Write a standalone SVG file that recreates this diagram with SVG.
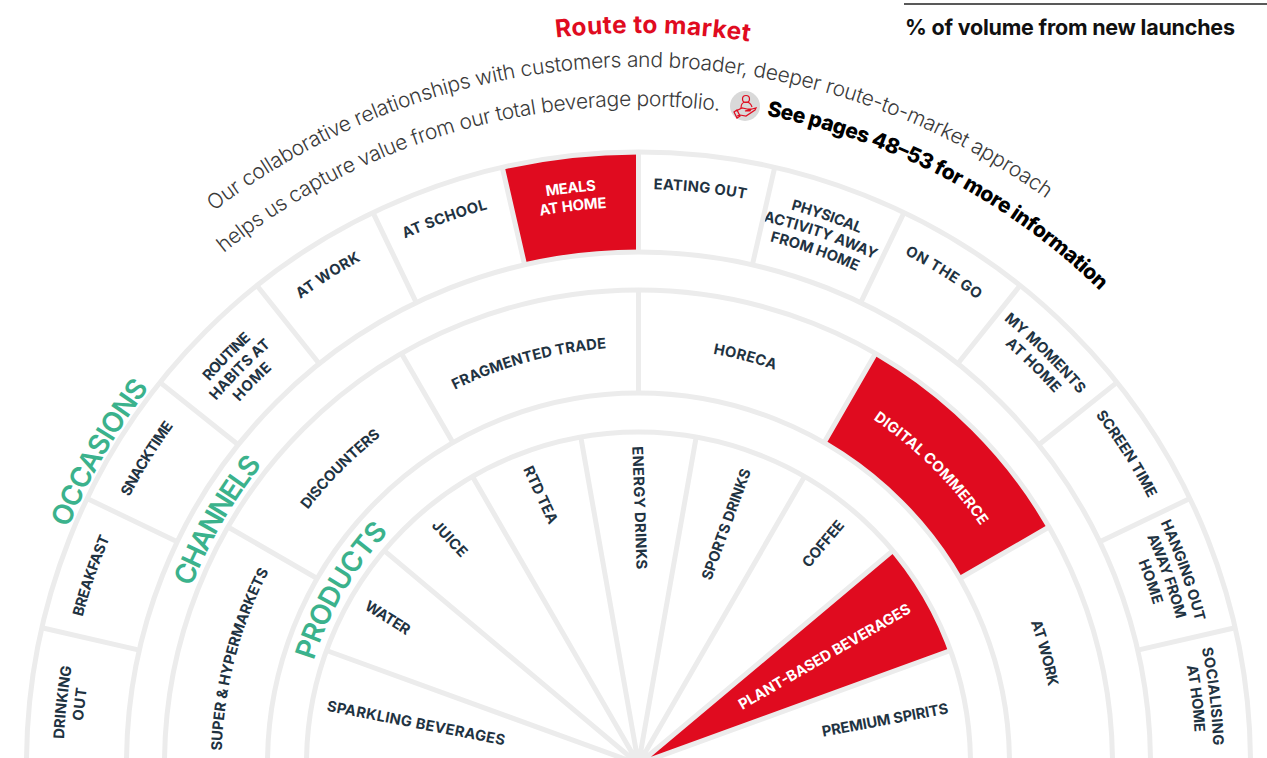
<svg xmlns="http://www.w3.org/2000/svg" width="1267" height="758" viewBox="0 0 1267 758">
<style>
text{font-family:"Inter","Liberation Sans",sans-serif}
.l{font-weight:700;font-size:14.7px;fill:#1f3342;text-anchor:middle}
.w{font-weight:700;font-size:14.7px;fill:#fff;text-anchor:middle}
.t{font-weight:600;font-size:28px;fill:#3bb28c}
.red{fill:#e00b1f}
.ring{fill:none;stroke:#ececec;stroke-width:5}
.b{font-weight:300;font-size:21px;fill:#3a3a3a}
</style>
<defs>
<path id="r731" d="M-92.5 764A731 731 0 0 1 1369.5 764"/>
<path id="r697" d="M-58.5 764A697 697 0 0 1 1335.5 764"/>
<path id="r658" d="M-19.5 764A658 658 0 0 1 1296.5 764"/>
<path id="r661" d="M-22.5 764A661 661 0 0 1 1299.5 764"/>
<path id="r617" d="M21.5 764A617 617 0 0 1 1255.5 764"/>
<path id="r481" d="M157.5 764A481 481 0 0 1 1119.5 764"/>
<path id="r341" d="M297.5 764A341 341 0 0 1 979.5 764"/>
<path id="r575" transform="rotate(-0.3 638.5 764)" d="M63.5 764A575 575 0 0 1 1213.5 764"/>
<path id="r557" transform="rotate(-0.3 638.5 764)" d="M81.5 764A557 557 0 0 1 1195.5 764"/>
<path id="r539" transform="rotate(-0.3 638.5 764)" d="M99.5 764A539 539 0 0 1 1177.5 764"/>
<path id="r417" transform="rotate(-0.3 638.5 764)" d="M221.5 764A417 417 0 0 1 1055.5 764"/>
</defs>
<g id="header">
<line x1="904" y1="4" x2="1267" y2="4" stroke="#222" stroke-width="1.5"/>
<text x="905" y="35" font-size="21.5" font-weight="700" fill="#111" textLength="330">% of volume from new launches</text>
<text font-size="24.5" font-weight="700" fill="#e00b1f"><textPath href="#r731" startOffset="46.4%" textLength="194">Route to market</textPath></text>
<text class="b"><textPath href="#r697" startOffset="29.15%" textLength="892">Our collaborative relationships with customers and broader, deeper route-to-market approach</textPath></text>
<text class="b"><textPath href="#r658" startOffset="28.3%" textLength="530">helps us capture value from our total beverage portfolio.</textPath></text>
<text font-size="21" font-weight="800" fill="#000"><textPath href="#r661" startOffset="56.2%" textLength="382">See pages 48–53 for more information</textPath></text>
</g>
<g id="icon">
<circle cx="745" cy="106" r="15" fill="#d9d9d9"/>
<g fill="none" stroke="#e00b1f" stroke-width="1.2">
<circle cx="746" cy="99" r="3.5"/>
<path d="M741 108c0-4 2-6 5-6s5 2 6 5"/>
<path d="M736 111l6-3 5 1 4 0-1 2-5 0 7-2 4-1-1 2-9 6-6-1-3 1"/>
<path d="M734 112l3-2 3 6-3 2z"/>
</g>
</g>
<g id="occasions">
<g id="o-drinking-out"><text class="l"><textPath href="#r575" startOffset="3.57%" textLength="73">DRINKING</textPath></text><text class="l"><textPath href="#r557" startOffset="3.57%" textLength="33">OUT</textPath></text></g>
<g id="o-breakfast"><text class="l"><textPath href="#r575" startOffset="10.72%" textLength="84">BREAKFAST</textPath></text></g>
<g id="o-snacktime"><text class="l"><textPath href="#r575" startOffset="17.86%" textLength="84">SNACKTIME</textPath></text></g>
<g id="o-routine"><text class="l"><textPath href="#r575" startOffset="25%" textLength="60">ROUTINE</textPath></text><text class="l"><textPath href="#r557" startOffset="25%" textLength="78">HABITS AT</textPath></text><text class="l"><textPath href="#r539" startOffset="25%" textLength="47">HOME</textPath></text></g>
<g id="o-at-work"><text class="l"><textPath href="#r575" startOffset="32.14%" textLength="72">AT WORK</textPath></text></g>
<g id="o-at-school"><text class="l"><textPath href="#r575" startOffset="39.28%" textLength="88">AT SCHOOL</textPath></text></g>
<g id="o-meals"><path class="red" d="M502.3 167.4A612 612 0 0 1 638.5 152L638.5 252A512 512 0 0 0 524.6 264.8Z"/><text class="w"><textPath href="#r575" startOffset="46.43%" textLength="50">MEALS</textPath></text><text class="w"><textPath href="#r557" startOffset="46.43%" textLength="67">AT HOME</textPath></text></g>
<g id="o-eating-out"><text class="l"><textPath href="#r575" startOffset="53.57%" textLength="93">EATING OUT</textPath></text></g>
<g id="o-physical"><text class="l"><textPath href="#r575" startOffset="60.72%" textLength="73">PHYSICAL</textPath></text><text class="l"><textPath href="#r557" startOffset="60.72%" textLength="118">ACTIVITY AWAY</textPath></text><text class="l"><textPath href="#r539" startOffset="60.72%" textLength="92">FROM HOME</textPath></text></g>
<g id="o-on-the-go"><text class="l"><textPath href="#r575" startOffset="67.86%" textLength="86">ON THE GO</textPath></text></g>
<g id="o-my-moments"><text class="l"><textPath href="#r575" startOffset="75%" textLength="106">MY MOMENTS</textPath></text><text class="l"><textPath href="#r557" startOffset="75%" textLength="70">AT HOME</textPath></text></g>
<g id="o-screen-time"><text class="l"><textPath href="#r575" startOffset="82.14%" textLength="99">SCREEN TIME</textPath></text></g>
<g id="o-hanging-out"><text class="l"><textPath href="#r575" startOffset="89.28%" textLength="105">HANGING OUT</textPath></text><text class="l"><textPath href="#r557" startOffset="89.28%" textLength="88">AWAY FROM</textPath></text><text class="l"><textPath href="#r539" startOffset="89.28%" textLength="46">HOME</textPath></text></g>
<g id="o-socialising"><text class="l"><textPath href="#r575" startOffset="96.43%" textLength="98">SOCIALISING</textPath></text><text class="l"><textPath href="#r557" startOffset="96.43%" textLength="67">AT HOME</textPath></text></g>
</g>
<g id="channels">
<g id="c-super"><text class="l"><textPath href="#r417" startOffset="8.33%" textLength="187">SUPER &amp; HYPERMARKETS</textPath></text></g>
<g id="c-discounters"><text class="l"><textPath href="#r417" startOffset="25%" textLength="104">DISCOUNTERS</textPath></text></g>
<g id="c-fragmented"><text class="l"><textPath href="#r417" startOffset="41.67%" textLength="158">FRAGMENTED TRADE</textPath></text></g>
<g id="c-horeca"><text class="l"><textPath href="#r417" startOffset="58.33%" textLength="64">HORECA</textPath></text></g>
<g id="c-digital"><path class="red" d="M875.5 353.5A474 474 0 0 1 1049 527L959.8 578.5A371 371 0 0 0 824 442.7Z"/><text class="w"><textPath href="#r417" startOffset="75%" textLength="152">DIGITAL COMMERCE</textPath></text></g>
<g id="c-at-work"><text class="l"><textPath href="#r417" startOffset="91.67%" textLength="67">AT WORK</textPath></text></g>
</g>
<g id="products">
<g id="p-sparkling"><text class="l" transform="translate(415 728) rotate(11)" textLength="181">SPARKLING BEVERAGES</text></g>
<g id="p-water"><text class="l" transform="translate(385 622) rotate(32)" textLength="50">WATER</text></g>
<g id="p-juice"><text class="l" transform="translate(446 542) rotate(47)" textLength="44">JUICE</text></g>
<g id="p-rtd"><text class="l" transform="translate(536 497) rotate(65)" textLength="62">RTD TEA</text></g>
<g id="p-energy"><text class="l" transform="translate(634.5 508) rotate(88)" textLength="123">ENERGY DRINKS</text></g>
<g id="p-sports"><text class="l" transform="translate(731 526) rotate(-70)" textLength="117">SPORTS DRINKS</text></g>
<g id="p-coffee"><text class="l" transform="translate(827 547) rotate(-50)" textLength="56">COFFEE</text></g>
<g id="p-plant"><path class="red" d="M638.5 764L892.8 550.6A332 332 0 0 1 950.5 650.5Z"/><text class="w" transform="translate(827 661) rotate(-30)" textLength="196">PLANT-BASED BEVERAGES</text></g>
<g id="p-premium"><text class="l" transform="translate(886 725) rotate(-10.5)" textLength="128">PREMIUM SPIRITS</text></g>
</g>
<g id="connectors" class="ring">
<path d="M26.5 764A612 612 0 0 1 1250.5 764"/>
<path d="M126.5 764A512 512 0 0 1 1150.5 764"/>
<path d="M164.5 764A474 474 0 0 1 1112.5 764"/>
<path d="M267.5 764A371 371 0 0 1 1009.5 764"/>
<path d="M306.5 764A332 332 0 0 1 970.5 764"/>
<path d="M638.5 152V252M502.3 167.4L524.6 264.8M373 212.6L416.3 302.7M256.9 285.5L319.3 363.7M160 382.4L238.2 444.8M87.1 498.5L177.2 541.8M41.9 627.8L139.3 650.1M774.7 167.4L752.4 264.8M904 212.6L860.7 302.7M1020.1 285.5L957.7 363.7M1117 382.4L1038.8 444.8M1189.9 498.5L1099.8 541.8M1235.1 627.8L1137.7 650.1"/>
<path d="M638.5 290V393M875.5 353.5L824 442.7M401.5 353.5L453 442.7M1049 527L959.8 578.5M228 527L317.2 578.5"/>
<path d="M638.5 764L580.8 437M638.5 764L696.2 437M638.5 764L472.5 476.5M638.5 764L804.5 476.5M638.5 764L384.2 550.6M638.5 764L892.8 550.6M638.5 764L326.5 650.5M638.5 764L950.5 650.5"/>
</g>
<g id="titles">
<text class="t"><textPath href="#r617" startOffset="12.5%" textLength="162">OCCASIONS</textPath></text>
<text class="t"><textPath href="#r481" startOffset="12.0%" textLength="142">CHANNELS</textPath></text>
<text class="t"><textPath href="#r341" startOffset="9.8%" textLength="150">PRODUCTS</textPath></text>
</g>
</svg>
